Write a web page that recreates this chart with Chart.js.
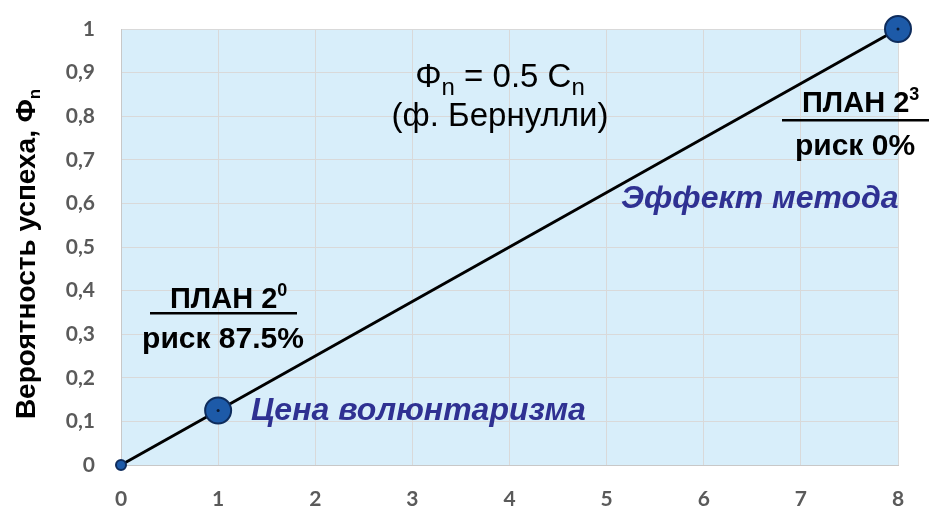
<!DOCTYPE html>
<html>
<head>
<meta charset="utf-8">
<script src="https://cdn.jsdelivr.net/npm/chart.js@4.4.1/dist/chart.umd.min.js"></script>
<style>
  html, body { margin: 0; padding: 0; background: #fff; }
  #wrap { width: 929px; height: 509px; position: relative; }
</style>
</head>
<body>
<div id="wrap"><canvas id="chart"></canvas></div>
<script>
// Data
const nValues = [0, 1, 8];
const phiValues = [0, 0.125, 1];
const xTicks = [0, 1, 2, 3, 4, 5, 6, 7, 8];
const yTicks = [0, 0.1, 0.2, 0.3, 0.4, 0.5, 0.6, 0.7, 0.8, 0.9, 1];

const points = nValues.map((n, i) => ({ x: n, y: phiValues[i] }));

const tickFont = { family: 'Lato', size: 21, weight: 'bold' };
const tickColor = '#5a5a5a';
const gridColor = '#d9d9d9';

// Background of the plot area
const plotBg = {
    id: 'plotBg',
    beforeDraw(chart) {
        const { ctx, chartArea: a } = chart;
        ctx.save();
        ctx.fillStyle = '#d8eefa';
        ctx.fillRect(a.left, a.top, a.right - a.left, a.bottom - a.top);
        ctx.restore();
    }
};

// Draw text with optional sub/superscript part
function drawRich(ctx, parts, x, y, align) {
    let total = 0;
    parts.forEach(p => { ctx.font = p.font; total += ctx.measureText(p.t).width; });
    let cx = align === 'center' ? x - total / 2 : (align === 'right' ? x - total : x);
    parts.forEach(p => {
        ctx.font = p.font;
        ctx.fillText(p.t, cx, y + (p.dy || 0));
        cx += ctx.measureText(p.t).width;
    });
    return total;
}

const labels = {
    id: 'labels',
    afterDraw(chart) {
        const ctx = chart.ctx;
        ctx.save();
        ctx.textBaseline = 'alphabetic';
        ctx.fillStyle = '#000';

        // formula
        const reg = '33px "Liberation Sans", Arial, sans-serif';
        const regSub = '24px "Liberation Sans", Arial, sans-serif';
        drawRich(ctx, [
            { t: 'Φ', font: reg },
            { t: 'n', font: regSub, dy: 8 },
            { t: ' = 0.5 C', font: reg },
            { t: 'n', font: regSub, dy: 8 }
        ], 500, 87, 'center');
        ctx.font = reg;
        ctx.textAlign = 'center';
        ctx.fillText('(ф. Бернулли)', 500, 126);
        ctx.textAlign = 'left';

        // plan 2^0
        const bold = 'bold 29px "Liberation Sans", Arial, sans-serif';
        const boldSup = 'bold 18px "Liberation Sans", Arial, sans-serif';
        drawRich(ctx, [
            { t: 'ПЛАН 2', font: bold },
            { t: '0', font: boldSup, dy: -12 }
        ], 170, 308, 'left');
        ctx.fillRect(150, 312, 147, 2.5);
        ctx.font = 'bold 30px "Liberation Sans", Arial, sans-serif';
        ctx.textAlign = 'center';
        ctx.fillText('риск 87.5%', 223, 348);
        ctx.textAlign = 'left';

        // plan 2^3
        drawRich(ctx, [
            { t: 'ПЛАН 2', font: bold },
            { t: '3', font: boldSup, dy: -12 }
        ], 802, 112, 'left');
        ctx.fillRect(782, 119, 147, 2.5);
        ctx.font = 'bold 30px "Liberation Sans", Arial, sans-serif';
        ctx.textAlign = 'center';
        ctx.fillText('риск 0%', 855, 155);
        ctx.textAlign = 'left';

        // blue notes
        ctx.fillStyle = '#2f3192';
        ctx.font = 'italic bold 32px "Liberation Sans", Arial, sans-serif';
        ctx.fillText('Эффект метода', 621, 208);
        ctx.fillText('Цена волюнтаризма', 251, 420);

        // y axis title
        ctx.fillStyle = '#000';
        ctx.translate(27, 254);
        ctx.rotate(-Math.PI / 2);
        ctx.textBaseline = 'middle';
        drawRich(ctx, [
            { t: 'Вероятность успеха, Φ', font: 'bold 28px "Liberation Sans", Arial, sans-serif' },
            { t: 'n', font: 'bold 17px "Liberation Sans", Arial, sans-serif', dy: 8 }
        ], 0, 0, 'center');
        ctx.restore();
    }
};

new Chart(document.getElementById('chart'), {
    type: 'scatter',
    data: {
        datasets: [{
            data: points,
            showLine: true,
            clip: false,
            borderColor: '#000',
            borderWidth: 3,
            pointRadius: [5, 13, 13],
            pointBackgroundColor: '#1d5aa8',
            pointBorderColor: '#0e2c5c',
            pointBorderWidth: 2,
            order: 2
        }, {
            data: points,
            showLine: false,
            clip: false,
            pointRadius: [0, 1.5, 1.5],
            pointBackgroundColor: '#0a1a33',
            pointBorderWidth: 0,
            order: 1
        }]
    },
    options: {
        responsive: true,
        maintainAspectRatio: false,
        animation: false,
        layout: { padding: { top: 29, right: 31, left: 0, bottom: 0 } },
        plugins: {
            legend: { display: false },
            tooltip: { enabled: false }
        },
        scales: {
            x: {
                type: 'linear',
                min: 0,
                max: 8,
                afterFit: s => { s.height = 44; },
                afterBuildTicks: s => { s.ticks = xTicks.map(v => ({ value: v })); },
                grid: { color: gridColor, drawTicks: true, tickLength: 22, tickColor: 'rgba(0,0,0,0)' },
                border: { color: '#c8c8c8', width: 1 },
                ticks: { color: tickColor, font: tickFont, padding: 0 }
            },
            y: {
                type: 'linear',
                min: 0,
                max: 1,
                afterFit: s => { s.width = 121; },
                afterBuildTicks: s => { s.ticks = yTicks.map(v => ({ value: v })); },
                grid: { color: gridColor, drawTicks: true, tickLength: 26, tickColor: 'rgba(0,0,0,0)' },
                border: { color: '#c8c8c8', width: 1 },
                ticks: {
                    color: tickColor,
                    font: tickFont,
                    padding: 0,
                    callback: v => (v === 0 || v === 1) ? String(v) : v.toFixed(1).replace('.', ',')
                }
            }
        }
    },
    plugins: [plotBg, labels]
});
</script>
</body>
</html>
